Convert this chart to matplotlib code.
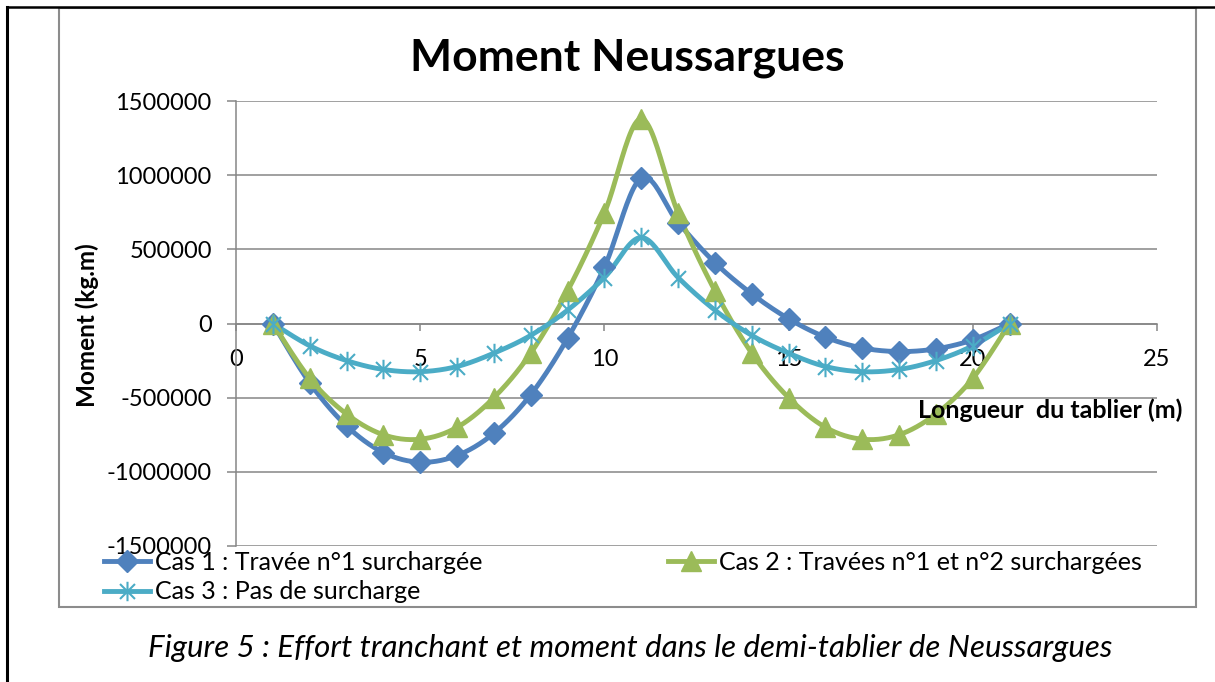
import numpy as np
import matplotlib.pyplot as plt
from matplotlib.path import Path
from matplotlib.lines import Line2D
from matplotlib.patches import Rectangle
from matplotlib.ticker import FuncFormatter

plt.rcParams['font.family'] = ['Lato', 'DejaVu Sans']

# Données (abscisse en m, moment en kg.m)
positions = list(range(1, 22))
cas1 = [0, -400000, -690000, -870000, -935000, -890000, -740000, -480000, -100000,
        380000, 980000, 680000, 410000, 200000, 32000, -92000, -165000, -189000,
        -171000, -110000, 0]
cas2 = [0, -370000, -610000, -750000, -780000, -700000, -500000, -200000, 220000,
        745000, 1380000, 745000, 220000, -200000, -500000, -700000, -780000, -750000,
        -610000, -370000, 0]
cas3 = [0, -150000, -250000, -310000, -325000, -290000, -200000, -80000, 90000,
        310000, 580000, 310000, 90000, -80000, -200000, -290000, -325000, -310000,
        -250000, -150000, 0]

labels = ["Cas 1 : Travée n°1 surchargée",
          "Cas 2 : Travées n°1 et n°2 surchargées",
          "Cas 3 : Pas de surcharge"]
colors = ['#4F81BD', '#9BBB59', '#4BACC6']
y_ticks = [-1500000, -1000000, -500000, 0, 500000, 1000000, 1500000]
x_ticks = [0, 5, 10, 15, 20, 25]


def smooth(x, y, n=24):
    # courbe lissée façon Excel (Bézier de type Catmull-Rom)
    p = np.column_stack([x, y]).astype(float)
    out = [p[0]]
    t = np.linspace(0, 1, n)[1:, None]
    for i in range(len(p) - 1):
        p0 = p[max(i - 1, 0)]
        p1 = p[i]
        p2 = p[i + 1]
        p3 = p[min(i + 2, len(p) - 1)]
        c1 = p1 + (p2 - p0) / 6
        c2 = p2 - (p3 - p1) / 6
        seg = ((1 - t)**3 * p1 + 3 * (1 - t)**2 * t * c1
               + 3 * (1 - t) * t**2 * c2 + t**3 * p2)
        out.extend(seg)
    out = np.array(out)
    return out[:, 0], out[:, 1]


# marqueur "étoile" Excel : X + trait vertical
star = Path([(-1, -1), (1, 1), (-1, 1), (1, -1), (0, -1.3), (0, 1.3)],
            [Path.MOVETO, Path.LINETO, Path.MOVETO, Path.LINETO, Path.MOVETO, Path.LINETO])

fig = plt.figure(figsize=(12.15, 6.82), dpi=100)
ax = fig.add_axes([236 / 1215, 136 / 682, 921 / 1215, 445 / 682])

styles = [dict(marker='D', ms=11.5, mfc=colors[0], mec=colors[0]),
          dict(marker='^', ms=14, mfc=colors[1], mec=colors[1]),
          dict(marker=star, ms=14, mfc='none', mec=colors[2], mew=1.5)]

handles = []
for vals, col, lab, st in zip([cas1, cas2, cas3], colors, labels, styles):
    sx, sy = smooth(positions, vals)
    ax.plot(sx, sy, color=col, lw=3.5, solid_capstyle='round', zorder=3)
    ax.plot(positions, vals, ls='none', zorder=4, **st)
    handles.append(Line2D([], [], color=col, lw=3.5, **st))

ax.set_xlim(0, 25)
ax.set_ylim(-1500000, 1500000)
ax.set_xticks(x_ticks)
ax.set_yticks(y_ticks)
ax.yaxis.set_major_formatter(FuncFormatter(lambda v, p: f"{int(v)}"))
ax.yaxis.grid(True, color='#868686', lw=1.1)
ax.set_axisbelow(True)

for s in ['top', 'right']:
    ax.spines[s].set_visible(False)
ax.spines['left'].set_color('#868686')
ax.spines['left'].set_linewidth(1.1)
ax.spines['bottom'].set_position(('data', 0))
ax.spines['bottom'].set_color('#868686')
ax.spines['bottom'].set_linewidth(1.1)
ax.tick_params(axis='y', direction='out', length=6.5, width=1.1, color='#868686',
               pad=11, labelsize=17)
ax.tick_params(axis='x', direction='out', length=5, width=1.1, color='#868686',
               pad=13, labelsize=17)

fig.text(627 / 1215, 1 - 58 / 682, "Moment Neussargues", fontsize=32,
         fontweight='bold', ha='center', va='center')
fig.text(87 / 1215, 1 - 325 / 682, "Moment (kg.m)", fontsize=17.5, fontweight='bold',
         rotation=90, ha='center', va='center')
fig.text(918 / 1215, 1 - 410 / 682, "Longueur  du tablier (m)", fontsize=18,
         fontweight='bold', ha='left', va='center')
fig.text(630 / 1215, 1 - 648 / 682,
         "Figure 5 : Effort tranchant et moment dans le demi-tablier de Neussargues",
         fontsize=22.5, style='italic', ha='center', va='center')

leg_kw = dict(loc='upper left', frameon=False, fontsize=18, borderpad=0,
              borderaxespad=0, handlelength=1.85, handletextpad=0.2, labelspacing=0.25)
fig.legend([handles[0], handles[2]], [labels[0], labels[2]],
           bbox_to_anchor=(104 / 1215, 1 - 551 / 682), **leg_kw)
fig.legend([handles[1]], [labels[1]],
           bbox_to_anchor=(668 / 1215, 1 - 551 / 682), **leg_kw)

# cadre du graphique et bordure de la page
fig.add_artist(Rectangle((59 / 1215, 1 - 607 / 682), 1137 / 1215, 599 / 682,
                         transform=fig.transFigure, fill=False, ec='#8c8c8c', lw=1.5))
fig.add_artist(Line2D([7 / 1215, 7 / 1215], [0, 1 - 7 / 682], transform=fig.transFigure,
                      color='black', lw=2.2))
fig.add_artist(Line2D([7 / 1215, 1], [1 - 7 / 682, 1 - 7 / 682], transform=fig.transFigure,
                      color='black', lw=1.8))

fig.savefig('out.png', dpi=100)
